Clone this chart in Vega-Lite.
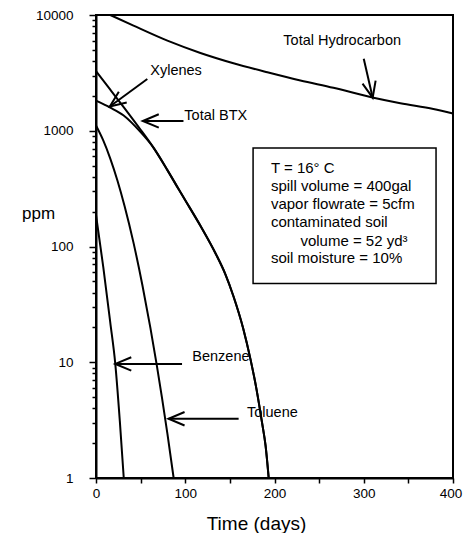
{
  "$schema": "https://vega.github.io/schema/vega-lite/v6.json",
  "width": 357,
  "height": 463,
  "autosize": {"type": "none"},
  "padding": {"left": 96, "top": 15, "right": 10, "bottom": 55},
  "background": "white",
  "config": {
    "view": {"stroke": "black", "strokeWidth": 2},
    "font": "Liberation Sans",
    "text": {"font": "Liberation Sans", "color": "black"}
  },
  "datasets": {
    "curves": [
      {"series": "Total Hydrocarbon", "x": 16, "y": 10000},
      {"series": "Total Hydrocarbon", "x": 42, "y": 8090},
      {"series": "Total Hydrocarbon", "x": 80, "y": 6000},
      {"series": "Total Hydrocarbon", "x": 117, "y": 4700},
      {"series": "Total Hydrocarbon", "x": 154, "y": 3830},
      {"series": "Total Hydrocarbon", "x": 192, "y": 3200},
      {"series": "Total Hydrocarbon", "x": 229, "y": 2720},
      {"series": "Total Hydrocarbon", "x": 266, "y": 2350},
      {"series": "Total Hydrocarbon", "x": 311, "y": 1930},
      {"series": "Total Hydrocarbon", "x": 341, "y": 1730},
      {"series": "Total Hydrocarbon", "x": 378, "y": 1540},
      {"series": "Total Hydrocarbon", "x": 400, "y": 1410},
      {"series": "Total BTX", "x": 0, "y": 3270},
      {"series": "Total BTX", "x": 16, "y": 2265},
      {"series": "Total BTX", "x": 31, "y": 1600},
      {"series": "Total BTX", "x": 48, "y": 1070},
      {"series": "Total BTX", "x": 64, "y": 722},
      {"series": "Total BTX", "x": 80, "y": 457},
      {"series": "Total BTX", "x": 93, "y": 309},
      {"series": "Total BTX", "x": 100, "y": 251},
      {"series": "Total BTX", "x": 117, "y": 151},
      {"series": "Total BTX", "x": 134, "y": 87},
      {"series": "Total BTX", "x": 145, "y": 57.5},
      {"series": "Total BTX", "x": 154, "y": 37.2},
      {"series": "Total BTX", "x": 165, "y": 19.5},
      {"series": "Total BTX", "x": 173, "y": 10.7},
      {"series": "Total BTX", "x": 180, "y": 5.75},
      {"series": "Total BTX", "x": 186, "y": 3.02},
      {"series": "Total BTX", "x": 190, "y": 1.9},
      {"series": "Total BTX", "x": 193.5, "y": 1},
      {"series": "Xylenes", "x": 0, "y": 1820},
      {"series": "Xylenes", "x": 16, "y": 1585},
      {"series": "Xylenes", "x": 31, "y": 1355},
      {"series": "Xylenes", "x": 50, "y": 973},
      {"series": "Xylenes", "x": 64, "y": 722},
      {"series": "Xylenes", "x": 80, "y": 457},
      {"series": "Xylenes", "x": 93, "y": 309},
      {"series": "Xylenes", "x": 100, "y": 251},
      {"series": "Xylenes", "x": 117, "y": 151},
      {"series": "Xylenes", "x": 134, "y": 87},
      {"series": "Xylenes", "x": 145, "y": 57.5},
      {"series": "Xylenes", "x": 154, "y": 37.2},
      {"series": "Xylenes", "x": 165, "y": 19.5},
      {"series": "Xylenes", "x": 173, "y": 10.7},
      {"series": "Xylenes", "x": 180, "y": 5.75},
      {"series": "Xylenes", "x": 186, "y": 3.02},
      {"series": "Xylenes", "x": 190, "y": 1.9},
      {"series": "Xylenes", "x": 193.5, "y": 1},
      {"series": "Toluene", "x": 0, "y": 1110},
      {"series": "Toluene", "x": 8, "y": 829},
      {"series": "Toluene", "x": 16, "y": 575},
      {"series": "Toluene", "x": 24, "y": 372},
      {"series": "Toluene", "x": 32, "y": 224},
      {"series": "Toluene", "x": 42, "y": 108},
      {"series": "Toluene", "x": 52, "y": 46.3},
      {"series": "Toluene", "x": 61, "y": 19.7},
      {"series": "Toluene", "x": 68, "y": 9.55},
      {"series": "Toluene", "x": 74, "y": 4.9},
      {"series": "Toluene", "x": 80, "y": 2.42},
      {"series": "Toluene", "x": 87, "y": 1},
      {"series": "Benzene", "x": 0, "y": 188},
      {"series": "Benzene", "x": 8.2, "y": 66},
      {"series": "Benzene", "x": 16, "y": 22},
      {"series": "Benzene", "x": 21.6, "y": 9.7},
      {"series": "Benzene", "x": 26.7, "y": 3.1},
      {"series": "Benzene", "x": 31.1, "y": 1}
    ],
    "arrows": [
      {"name": "Total Hydrocarbon", "x": 310, "y": 1930, "x2": 300, "y2": 4180},
      {"name": "Xylenes", "x": 15.5, "y": 1620, "x2": 57.5, "y2": 2800},
      {"name": "Total BTX", "x": 52.4, "y": 1215, "x2": 98, "y2": 1215},
      {"name": "Benzene", "x": 21.6, "y": 9.67, "x2": 96.4, "y2": 9.67},
      {"name": "Toluene", "x": 81.3, "y": 3.25, "x2": 159.8, "y2": 3.25}
    ],
    "labels": [
      {"label": "Total Hydrocarbon", "x": 209.9, "y": 6000},
      {"label": "Xylenes", "x": 60.8, "y": 3310},
      {"label": "Total BTX", "x": 99, "y": 1352},
      {"label": "Benzene", "x": 107.9, "y": 11.1},
      {"label": "Toluene", "x": 169.2, "y": 3.66}
    ],
    "box": [
      {"x": 176, "x2": 381, "y": 708, "y2": 48}
    ],
    "boxtext": [
      {"label": "T = 16° C", "x": 196, "y": 473},
      {"label": "spill volume = 400gal", "x": 196, "y": 331},
      {"label": "vapor flowrate = 5cfm", "x": 196, "y": 232},
      {"label": "contaminated soil", "x": 196, "y": 162},
      {"label": "volume = 52 yd³", "x": 229, "y": 111},
      {"label": "soil moisture = 10%", "x": 196, "y": 79}
    ]
  },
  "encoding": {
    "x": {
      "field": "x",
      "type": "quantitative",
      "title": "Time (days)",
      "scale": {"domain": [0, 400], "nice": false, "zero": false},
      "axis": {
        "values": [0, 50, 100, 150, 200, 250, 300, 350, 400],
        "labelExpr": "datum.value % 100 == 0 ? '' + datum.value : ''",
        "grid": false,
        "domainColor": "black",
        "domainWidth": 2,
        "tickColor": "black",
        "tickWidth": 1.5,
        "tickSize": 5,
        "labelColor": "black",
        "labelFont": "Liberation Sans",
        "labelFontSize": 13.5,
        "labelPadding": 3,
        "labelOffset": {"condition": {"test": "datum.value == 400", "value": -2.5}, "value": 0},
        "labelFlush": false,
        "labelBound": false,
        "labelOverlap": false,
        "titleFont": "Liberation Sans",
        "titleFontSize": 19,
        "titleFontWeight": "normal",
        "titleColor": "black",
        "titleX": 160,
        "titleY": 45,
        "titleAlign": "center",
        "titleBaseline": "middle",
        "titleAnchor": null
      }
    },
    "y": {
      "field": "y",
      "type": "quantitative",
      "title": "ppm",
      "scale": {"type": "log", "domain": [1, 10000], "nice": false},
      "axis": {
        "values": [1, 2, 3, 4, 5, 6, 7, 8, 9, 10, 20, 30, 40, 50, 60, 70, 80, 90, 100, 200, 300, 400, 500, 600, 700, 800, 900, 1000, 2000, 3000, 4000, 5000, 6000, 7000, 8000, 9000, 10000],
        "labelExpr": "(datum.value == 1 || datum.value == 10 || datum.value == 100 || datum.value == 1000 || datum.value == 10000) ? '' + datum.value : ''",
        "grid": false,
        "domainColor": "black",
        "domainWidth": 2,
        "tickColor": "black",
        "tickWidth": 1.5,
        "tickSize": {"condition": {"test": "datum.value == 1 || datum.value == 10 || datum.value == 100 || datum.value == 1000 || datum.value == 10000", "value": 7}, "value": 4},
        "labelColor": "black",
        "labelFont": "Liberation Sans",
        "labelFontSize": 13.5,
        "labelPadding": 16,
        "labelFlush": false,
        "labelOverlap": false,
        "labelBound": false,
        "titleFont": "Liberation Sans",
        "titleFontSize": 17,
        "titleFontWeight": "normal",
        "titleColor": "black",
        "titleAngle": 0,
        "titleX": -58,
        "titleY": 198,
        "titleAlign": "center",
        "titleBaseline": "middle",
        "titleAnchor": null
      }
    }
  },
  "layer": [
    {
      "data": {"name": "box"},
      "mark": {"type": "rect", "fill": "white", "stroke": "black", "strokeWidth": 1.5},
      "encoding": {"x2": {"field": "x2"}, "y2": {"field": "y2"}}
    },
    {
      "data": {"name": "boxtext"},
      "mark": {"type": "text", "align": "left", "baseline": "middle", "fontSize": 15, "font": "Liberation Sans", "color": "black"},
      "encoding": {"text": {"field": "label"}}
    },
    {
      "data": {"name": "curves"},
      "mark": {"type": "line", "color": "black", "strokeWidth": 2, "interpolate": "monotone"},
      "encoding": {"detail": {"field": "series"}}
    },
    {
      "data": {"name": "arrows"},
      "mark": {"type": "rule", "color": "black", "strokeWidth": 2},
      "encoding": {"x2": {"field": "x2"}, "y2": {"field": "y2"}}
    },
    {
      "data": {"name": "arrows"},
      "transform": [{"filter": "datum.name == 'Total BTX' || datum.name == 'Benzene' || datum.name == 'Toluene'"}],
      "mark": {"type": "point", "shape": "M-1,-0.42L0,0L-1,0.42", "filled": false, "size": 1024, "strokeWidth": 2, "color": "black", "opacity": 1, "angle": 180}
    },
    {
      "data": {"name": "arrows"},
      "transform": [{"filter": "datum.name == 'Xylenes'"}],
      "mark": {"type": "point", "shape": "M-1,-0.42L0,0L-1,0.42", "filled": false, "size": 1024, "strokeWidth": 2, "color": "black", "opacity": 1, "angle": 144}
    },
    {
      "data": {"name": "arrows"},
      "transform": [{"filter": "datum.name == 'Total Hydrocarbon'"}],
      "mark": {"type": "point", "shape": "M-1,-0.42L0,0L-1,0.42", "filled": false, "size": 1024, "strokeWidth": 2, "color": "black", "opacity": 1, "angle": 77}
    },
    {
      "data": {"name": "labels"},
      "mark": {"type": "text", "align": "left", "baseline": "middle", "fontSize": 14.5, "font": "Liberation Sans", "color": "black"},
      "encoding": {"text": {"field": "label"}}
    }
  ]
}
